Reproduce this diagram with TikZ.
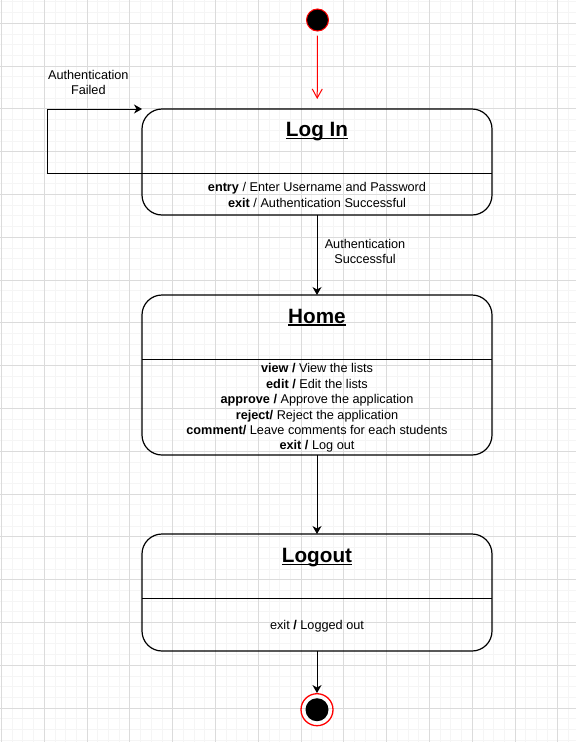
\documentclass[tikz,border=0pt]{standalone}
\usepackage{fontspec}
\setmainfont{Liberation Sans}
\usetikzlibrary{arrows.meta}

\newcommand{\ulinetext}[1]{\setbox0=\hbox{#1}\rlap{\vrule height -1.2pt depth 2.7pt width \wd0}\box0}

\begin{document}
\begin{tikzpicture}[x=1pt, y=-1pt,
        statebox/.style={draw, line width=1.2pt, rounded corners=20pt, minimum width=350pt, inner sep=0pt, outer sep=0pt},
        title/.style={font=\fontsize{20.7}{24}\selectfont\bfseries, inner sep=0pt, anchor=base},
        body/.style={font=\fontsize{12.7}{15.4}\selectfont, align=center, inner sep=0pt},
        flow/.style={line width=1pt, -{Stealth[length=8pt, width=9pt, inset=2.5pt]}},
        startflow/.style={red, line width=1pt, -{Straight Barb[length=9pt, width=10pt]}},
        gridminor/.style={gray!8, line width=0.9pt},
        gridmajor/.style={gray!28, line width=1pt}]
        % Background grid
        \fill[white] (0,0) rectangle (576,742);
        \useasboundingbox (0,0) rectangle (576,742);
        \foreach \k in {0,...,53}
            \draw[gridminor] ({1.5+10.7*\k},0) -- ({1.5+10.7*\k},742);
        \foreach \k in {0,...,69}
            \draw[gridminor] (0,{1.9+10.7*\k}) -- (576,{1.9+10.7*\k});
        \foreach \k in {0,...,13}
            \draw[gridmajor] ({1.5+42.8*\k},0) -- ({1.5+42.8*\k},742);
        \foreach \k in {0,...,16}
            \draw[gridmajor] (0,{23.3+42.8*\k}) -- (576,{23.3+42.8*\k});

        % Start state
        \node[circle, draw=red, fill=black, line width=1pt, minimum size=22pt, inner sep=0pt] (start) at (317.5,20) {};

        % States
        \node[statebox, minimum height=106pt] (login) at (317,162) {};
        \node[statebox, minimum height=160pt] (home) at (317,375) {};
        \node[statebox, minimum height=117pt] (logout) at (317,592.5) {};

        % Final state
        \node[circle, draw=red, line width=1.3pt, minimum size=32pt, inner sep=0pt] (final) at (317,709.7) {};
        \node[circle, fill=black, minimum size=23pt, inner sep=0pt] (finaldot) at (final) {};

        % Compartment lines
        \coordinate (logindiv) at (317,173);
        \coordinate (homediv) at (317,359);
        \coordinate (logoutdiv) at (317,598);
        \draw[line width=1pt] (login.west |- logindiv) -- (login.east |- logindiv);
        \draw[line width=1pt] (home.west |- homediv) -- (home.east |- homediv);
        \draw[line width=1pt] (logout.west |- logoutdiv) -- (logout.east |- logoutdiv);

        % State names
        \node[title] (logintitle) at (317,136.7) {\ulinetext{Log In}};
        \node[title] (hometitle) at (317,323) {\ulinetext{Home}};
        \node[title] (logouttitle) at (317,562.3) {\ulinetext{Logout}};

        % Actions
        \node[body, anchor=north] (loginacts) at (317,182.4)
            {\textbf{entry} / Enter Username and Password\\\textbf{exit} / Authentication Successful};
        \node[body, anchor=north] (homeacts) at (317,363.5)
            {\textbf{view /} View the lists\\\textbf{edit /} Edit the lists\\\textbf{approve /} Approve the application\\
             \textbf{reject/} Reject the application\\\textbf{comment/} Leave comments for each students\\\textbf{exit /} Log out};
        \node[body, anchor=base] (logoutacts) at (317,629.5) {exit \textbf{/} Logged out};

        % Transition labels
        \node[body] (failedlbl) at (88.3,82.6) {Authentication\\Failed};
        \node[body] (successlbl) at (365,251.7) {Authentication\\Successful};

        % Transitions
        \draw[startflow, shorten <=4pt, shorten >=10pt] (start) -- (login);
        \draw[flow] (login.west |- logindiv) -- ++(-95,0) |- (login.north west);
        \draw[flow] (login) -- (home);
        \draw[flow] (home) -- (logout);
        \draw[flow] (logout) -- (final);
    \end{tikzpicture}
\end{document}
